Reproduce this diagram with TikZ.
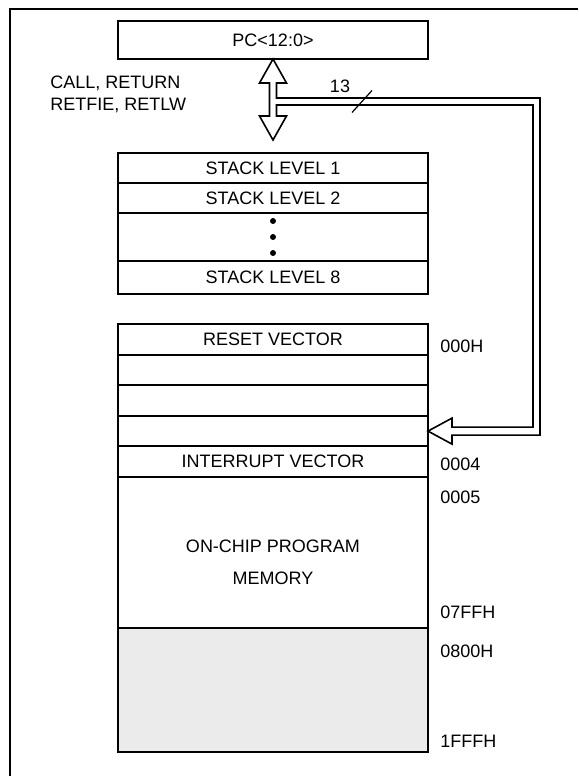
\documentclass[tikz,border=0pt]{standalone}
\usepackage{fontspec}
\setmainfont{Liberation Sans}
\usetikzlibrary{calc,positioning}
\definecolor{unimpl}{HTML}{EBEBEB}

\begin{document}
\begin{tikzpicture}[
  x=0.5pt, y=-0.5pt,
  font=\fontsize{9}{11}\selectfont,
  box/.style={rectangle, draw, line width=1pt, outer sep=0pt, inner sep=0pt,
    minimum width=155pt},
  row/.style={box, minimum height=15pt},
  mrow/.style={box, minimum height=15.3pt},
  addr/.style={anchor=west, inner sep=0pt},
  bus/.style={draw, fill=white, line width=0.8pt, line join=miter}
  ]
  \useasboundingbox (0,0) rectangle (578,776);
  \draw[line width=1.2pt] (10,776) -- (10,9) -- (578,9);

  \node[box, minimum height=19pt] (pc) at (273,40) {PC<12:0>};
  \node[anchor=west, align=left, inner sep=0pt] (ops) at (50,94) {CALL, RETURN\\RETFIE, RETLW};

  % stack
  \node[row, below=47pt of pc] (s1) {STACK LEVEL 1};
  \node[row, below=0pt of s1] (s2) {STACK LEVEL 2};
  \node[box, minimum height=24pt, below=0pt of s2] (sdots) {};
  \node[box, minimum height=16.5pt, below=0pt of sdots] (s8) {STACK LEVEL 8};
  \foreach \d in {-16,0,16}
    \fill ($(sdots.center)+(0,\d)$) circle (1.5pt);

  % program memory map
  \node[mrow, below=15pt of s8] (mreset) {RESET VECTOR};
  \node[mrow, below=0pt of mreset] (m1) {};
  \node[mrow, below=0pt of m1] (m2) {};
  \node[mrow, below=0pt of m2] (m3) {};
  \node[mrow, below=0pt of m3] (mint) {INTERRUPT VECTOR};
  \node[box, minimum height=75.5pt, below=0pt of mint] (prog) {};
  \node[box, minimum height=62pt, fill=unimpl, below=0pt of prog] (shade) {};
  \node[align=center, font=\fontsize{9}{16}\selectfont] (progtxt)
    at ($(prog.center)+(0,10)$) {ON-CHIP PROGRAM\\MEMORY};

  \node[addr] (a0) at ($(mreset.east)+(12,7)$) {000H};
  \node[addr] (a4) at ($(mint.east)+(12,3)$) {0004};
  \node[addr] (a5) at ($(prog.north east)+(12,20)$) {0005};
  \node[addr] (a7ff) at ($(prog.south east)+(12,-16)$) {07FFH};
  \node[addr] (a800) at ($(shade.north east)+(12,23)$) {0800H};
  \node[addr] (a1fff) at ($(shade.south east)+(12,-11)$) {1FFFH};

  % 13-bit bus
  \coordinate (btip) at ($(s1.north)+(0,-13)$);
  \coordinate (bend) at (536.5,101.5);
  \draw[bus] (pc.south) -- ++(13.5,24) -- ++(-10,0)
    |- ($(bend)+(3.5,-3.5)$) |- ($(m3.east)+(24,4)$) -- ++(0,9)
    -- (m3.east) -- ++(24,-13) -- ++(0,9)
    -| ($(bend)+(-3.5,3.5)$) -| ($(btip)+(3.5,-24)$) -- ++(10,0)
    -- (btip) -- ++(-13.5,-24) -- ++(10,0)
    -- ($(pc.south)+(-3.5,24)$) -- ++(-10,0) -- cycle;

  \coordinate (tick) at (362,101.5);
  \draw[line width=0.6pt] ($(tick)+(-10,11)$) -- ($(tick)+(10,-11)$);
  \node (width) at ($(tick)+(-22,-15)$) {13};
\end{tikzpicture}
\end{document}
